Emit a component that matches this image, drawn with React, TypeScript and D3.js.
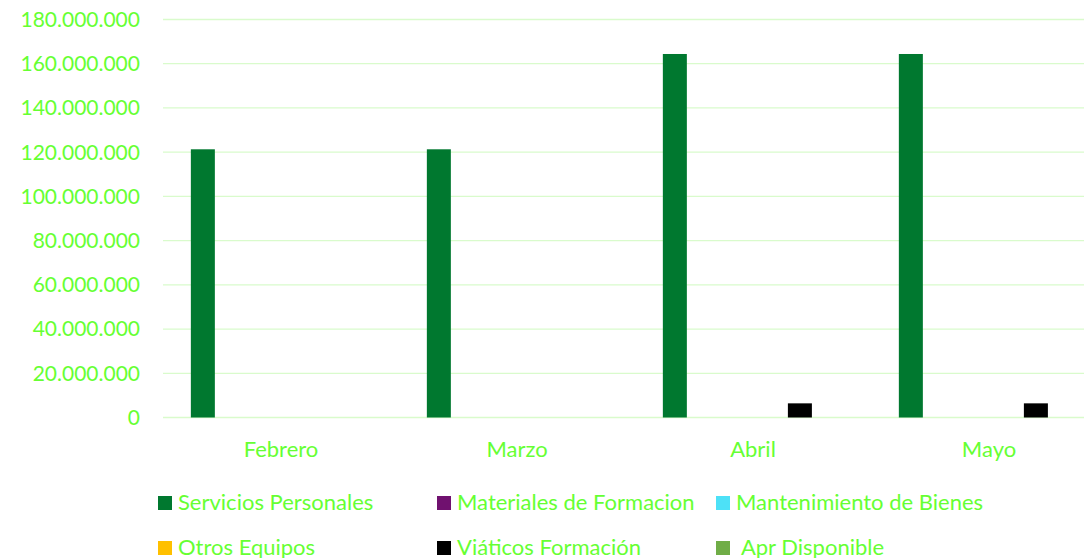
import React, { useRef, useEffect } from 'react';
import * as d3 from 'd3';

const months = ['Febrero', 'Marzo', 'Abril', 'Mayo'];
const seriesNames = [
  'Servicios Personales',
  'Materiales de Formacion',
  'Mantenimiento de Bienes',
  'Otros Equipos',
  'Viáticos Formación',
  ' Apr Disponible',
];
const seriesColors = ['#00782f', '#70116f', '#4de1f7', '#ffc000', '#000000', '#70ad47'];
const serviciosPersonales = [121300000, 121300000, 164400000, 164400000];
const materialesFormacion = [0, 0, 0, 0];
const mantenimientoBienes = [0, 0, 0, 0];
const otrosEquipos = [0, 0, 0, 0];
const viaticosFormacion = [0, 0, 6400000, 6400000];
const aprDisponible = [0, 0, 0, 0];
const yTicks = [0, 20000000, 40000000, 60000000, 80000000, 100000000, 120000000, 140000000, 160000000, 180000000];

const seriesValues = [
  serviciosPersonales,
  materialesFormacion,
  mantenimientoBienes,
  otrosEquipos,
  viaticosFormacion,
  aprDisponible,
];

const App = () => {
  const svgRef = useRef(null);

  useEffect(() => {
    const svg = d3.select(svgRef.current);
    svg.selectAll('*').remove();

    const font = 'Lato, "Noto Sans", sans-serif';
    const textColor = '#66ff33';
    const left = 163;
    const right = 1107;
    const top = 19.5;
    const bottom = 417.5;

    const x0 = d3.scaleBand()
      .domain(months)
      .range([left, right])
      .paddingInner(0.236)
      .paddingOuter(0.118);

    const x1 = d3.scaleBand()
      .domain(seriesNames)
      .range([0, x0.bandwidth()])
      .paddingInner(0.232);

    const y = d3.scaleLinear()
      .domain([0, 180000000])
      .range([bottom, top]);

    const fmt = d3.formatLocale({ decimal: ',', thousands: '.', grouping: [3], currency: ['', ''] }).format(',d');

    // gridlines
    svg.append('g')
      .selectAll('line')
      .data(yTicks)
      .enter().append('line')
      .attr('x1', left)
      .attr('x2', 1084)
      .attr('y1', d => y(d))
      .attr('y2', d => y(d))
      .attr('stroke', '#d9fbcc')
      .attr('stroke-width', 1.3);

    // y labels
    svg.append('g')
      .selectAll('text')
      .data(yTicks)
      .enter().append('text')
      .attr('x', 140)
      .attr('y', d => y(d))
      .attr('dy', '0.35em')
      .attr('text-anchor', 'end')
      .attr('font-family', font)
      .attr('font-size', 21)
      .attr('fill', textColor)
      .text(d => fmt(d));

    // bars
    const groups = svg.append('g')
      .selectAll('g')
      .data(months)
      .enter().append('g')
      .attr('transform', d => `translate(${x0(d)},0)`);

    groups.selectAll('rect')
      .data((m, mi) => seriesNames.map((s, si) => ({ s, si, v: seriesValues[si][mi] })))
      .enter().append('rect')
      .filter(d => d.v > 0)
      .attr('x', d => x1(d.s))
      .attr('y', d => y(d.v))
      .attr('width', x1.bandwidth())
      .attr('height', d => bottom - y(d.v))
      .attr('fill', d => seriesColors[d.si]);

    // x labels
    svg.append('g')
      .selectAll('text')
      .data(months)
      .enter().append('text')
      .attr('x', d => x0(d) + x0.bandwidth() / 2)
      .attr('y', 457)
      .attr('text-anchor', 'middle')
      .attr('font-family', font)
      .attr('font-size', 22)
      .attr('fill', textColor)
      .text(d => d);

    // legend
    const legendX = [158, 437, 716];
    const legendY = [503, 548];
    const legend = svg.append('g')
      .selectAll('g')
      .data(seriesNames)
      .enter().append('g')
      .attr('transform', (d, i) => `translate(${legendX[i % 3]},${legendY[Math.floor(i / 3)]})`);

    legend.append('rect')
      .attr('x', 0)
      .attr('y', -7)
      .attr('width', 14)
      .attr('height', 14)
      .attr('fill', (d, i) => seriesColors[i]);

    legend.append('text')
      .attr('x', 20)
      .attr('y', 7)
      .attr('font-family', font)
      .attr('font-size', 22)
      .attr('fill', textColor)
      .style('white-space', 'pre')
      .text(d => d);
  }, []);

  return (
    <svg
      ref={svgRef}
      width={1084}
      height={558}
      style={{ position: 'absolute', left: 0, top: 0 }}
    />
  );
};

export default App;
